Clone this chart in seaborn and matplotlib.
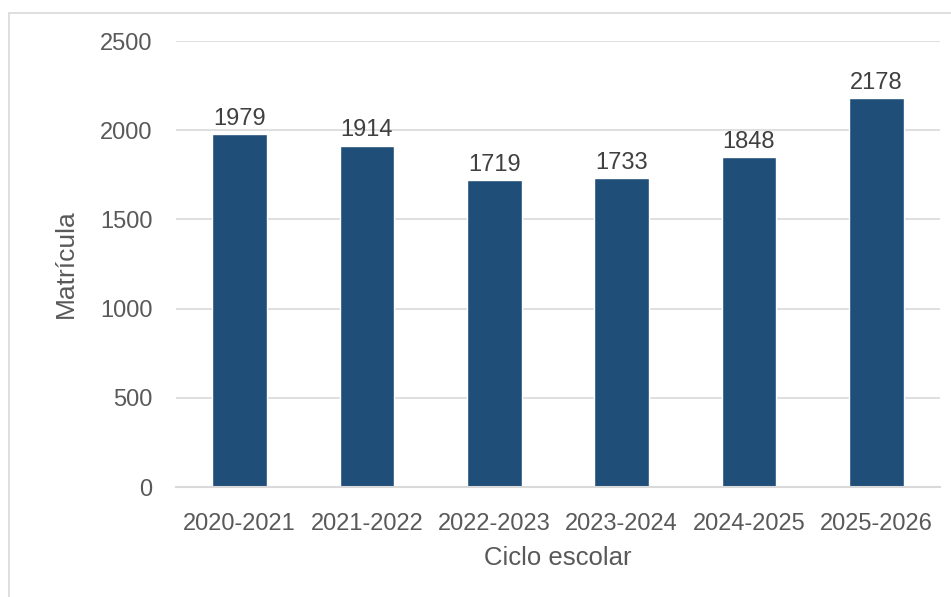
import matplotlib
matplotlib.use("Agg")
import matplotlib.pyplot as plt
import seaborn as sns
import pandas as pd
from matplotlib.patches import Rectangle

ciclos = ["2020-2021", "2021-2022", "2022-2023", "2023-2024", "2024-2025", "2025-2026"]
matricula = [1979, 1914, 1719, 1733, 1848, 2178]

sns.set_theme(style="white")
plt.rcParams['font.family'] = ['Liberation Sans', 'DejaVu Sans']

df = pd.DataFrame({"Ciclo escolar": ciclos, "Matrícula": matricula})

fig = plt.figure(figsize=(9.51, 5.97), dpi=100)
ax = fig.add_axes([176/951, 1 - 487/597, (940-176)/951, (487-41)/597])

sns.barplot(data=df, x="Ciclo escolar", y="Matrícula", color="#1F4E79",
            width=0.43, saturation=1, ax=ax)

ax.set_ylim(0, 2500)
ax.set_yticks([0, 500, 1000, 1500, 2000, 2500])
ax.yaxis.grid(True, color="#D9D9D9", linewidth=1.2)
ax.set_axisbelow(True)
for s in ["top", "right", "left"]:
    ax.spines[s].set_visible(False)
ax.spines["bottom"].set_color("#D9D9D9")
ax.spines["bottom"].set_linewidth(1.5)
ax.tick_params(axis="both", length=0, labelsize=17, colors="#595959")
ax.tick_params(axis="y", pad=17)
ax.tick_params(axis="x", pad=19)
ax.set_xlabel("Ciclo escolar", fontsize=18.5, color="#595959", labelpad=7.5)
ax.set_ylabel("Matrícula", fontsize=19, color="#595959", labelpad=16)

for c in ax.containers:
    ax.bar_label(c, labels=[str(v) for v in matricula], fontsize=17, color="#404040", padding=3)

fig.patches.append(Rectangle((9/951, -0.1), 1.2, (1 - 13/597) + 0.1, transform=fig.transFigure,
                             fill=False, edgecolor="#D9D9D9", linewidth=1.2))

fig.savefig("out.png", dpi=100)
